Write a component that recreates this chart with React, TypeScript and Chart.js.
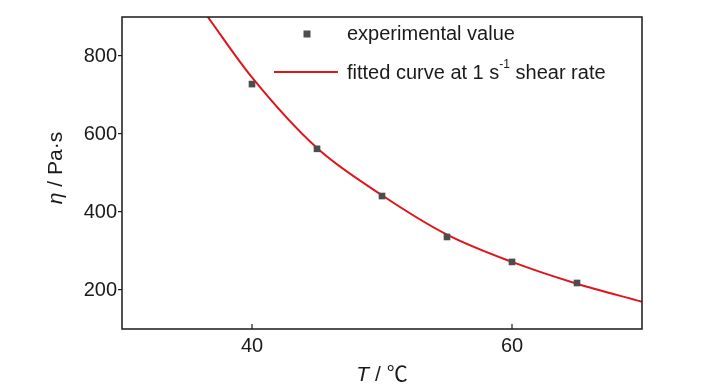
import React, { useEffect, useRef } from "react";
import { Chart, registerables } from "chart.js";

Chart.register(...registerables);

// ---- data ----
const temperatures = [40, 45, 50, 55, 60, 65];
const viscosities = [728, 562, 441, 336, 272, 218];
const fitTemperatures = [36.6, 40, 45, 50, 55, 60, 65, 70];
const fitViscosities = [900, 745, 564, 443, 342, 272, 216, 170];
const xTicks = [40, 60];
const yTicks = [200, 400, 600, 800];
const xRange = [30, 70];
const yRange = [100, 900];
const seriesLabels = ["experimental value", "fitted curve at 1 s⁻¹ shear rate"];
const xTitle = ["T", " / ℃"];
const yTitle = ["η", " / Pa·s"];

const FONT = '"Liberation Sans", Arial, "Noto Sans CJK SC", sans-serif';
const TEXT = "#1a1a1a";
const RED = "#e0141a";
const GREY = "#4d4d4d";

const decor = {
  id: "decor",
  afterDraw(chart: any) {
    const { ctx, chartArea: a, scales } = chart;
    ctx.save();
    // frame
    ctx.strokeStyle = TEXT;
    ctx.lineWidth = 1.5;
    ctx.strokeRect(a.left, a.top, a.right - a.left, a.bottom - a.top);
    // inward x ticks
    ctx.lineWidth = 1.2;
    xTicks.forEach((v) => {
      const x = scales.x.getPixelForValue(v);
      ctx.beginPath();
      ctx.moveTo(x, a.bottom);
      ctx.lineTo(x, a.bottom - 5);
      ctx.stroke();
    });

    ctx.fillStyle = TEXT;
    ctx.textBaseline = "middle";
    // x title
    const italic = `italic 21px ${FONT}`;
    const normal = `21px ${FONT}`;
    ctx.font = italic;
    const w1 = ctx.measureText(xTitle[0]).width;
    ctx.font = normal;
    const w2 = ctx.measureText(xTitle[1]).width;
    const cx = (a.left + a.right) / 2;
    const sx = cx - (w1 + w2) / 2;
    ctx.textAlign = "left";
    ctx.font = italic;
    ctx.fillText(xTitle[0], sx, 375);
    ctx.font = normal;
    ctx.fillText(xTitle[1], sx + w1, 375);

    // y title (rotated)
    ctx.save();
    ctx.translate(56, (a.top + a.bottom) / 2 - 5);
    ctx.rotate(-Math.PI / 2);
    ctx.font = italic;
    const v1 = ctx.measureText(yTitle[0]).width;
    ctx.font = normal;
    const v2 = ctx.measureText(yTitle[1]).width;
    const sy = -(v1 + v2) / 2;
    ctx.font = italic;
    ctx.fillText(yTitle[0], sy, 0);
    ctx.font = normal;
    ctx.fillText(yTitle[1], sy + v1, 0);
    ctx.restore();

    // legend
    const lx = 347;
    ctx.font = `20px ${FONT}`;
    ctx.fillStyle = GREY;
    ctx.fillRect(307 - 3.5, 34 - 3.5, 7, 7);
    ctx.fillStyle = TEXT;
    ctx.fillText(seriesLabels[0], lx, 34);
    ctx.strokeStyle = RED;
    ctx.lineWidth = 2;
    ctx.beginPath();
    ctx.moveTo(274, 72);
    ctx.lineTo(338, 72);
    ctx.stroke();
    const parts = seriesLabels[1].split("s⁻¹");
    const p1 = parts[0] + "s";
    ctx.fillText(p1, lx, 73);
    let px = lx + ctx.measureText(p1).width;
    ctx.font = `12px ${FONT}`;
    ctx.fillText("-1", px, 65);
    px += ctx.measureText("-1").width;
    ctx.font = `20px ${FONT}`;
    ctx.fillText(parts[1], px, 73);

    ctx.restore();
  },
};

export default function App() {
  const ref = useRef<HTMLCanvasElement | null>(null);
  useEffect(() => {
    if (!ref.current) return;
    const chart = new Chart(ref.current, {
      type: "scatter",
      data: {
        datasets: [
          {
            label: seriesLabels[0],
            data: temperatures.map((t, i) => ({ x: t, y: viscosities[i] })),
            pointStyle: "rect",
            pointRadius: 4.7,
            pointBackgroundColor: GREY,
            pointBorderWidth: 0,
            showLine: false,
          },
          {
            label: seriesLabels[1],
            data: fitTemperatures.map((t, i) => ({ x: t, y: fitViscosities[i] })),
            showLine: true,
            borderColor: RED,
            borderWidth: 2,
            pointRadius: 0,
            cubicInterpolationMode: "monotone",
          },
        ],
      },
      options: {
        animation: false,
        responsive: false,
        devicePixelRatio: 1,
        layout: { padding: { top: 17, right: 86, left: 0, bottom: 0 } },
        plugins: { legend: { display: false }, tooltip: { enabled: false } },
        scales: {
          x: {
            type: "linear",
            min: xRange[0],
            max: xRange[1],
            afterBuildTicks: (s: any) => {
              s.ticks = xTicks.map((v) => ({ value: v }));
            },
            afterFit: (s: any) => {
              s.height = 61;
            },
            grid: { display: false },
            border: { display: false },
            ticks: { color: TEXT, font: { family: FONT, size: 20 }, padding: -3 },
          },
          y: {
            type: "linear",
            min: yRange[0],
            max: yRange[1],
            afterBuildTicks: (s: any) => {
              s.ticks = yTicks.map((v) => ({ value: v }));
            },
            afterFit: (s: any) => {
              s.width = 122;
            },
            grid: { drawOnChartArea: false, drawTicks: true, tickLength: 4, color: TEXT, lineWidth: 1.2 },
            border: { display: false },
            ticks: { color: TEXT, font: { family: FONT, size: 20 }, padding: 1 },
          },
        },
      },
      plugins: [decor],
    } as any);
    return () => chart.destroy();
  }, []);
  return (
    <div style={{ position: "absolute", left: 0, top: 0, width: 728, height: 390, background: "#fff" }}>
      <canvas ref={ref} width={728} height={390} style={{ width: 728, height: 390, display: "block" }} />
    </div>
  );
}
